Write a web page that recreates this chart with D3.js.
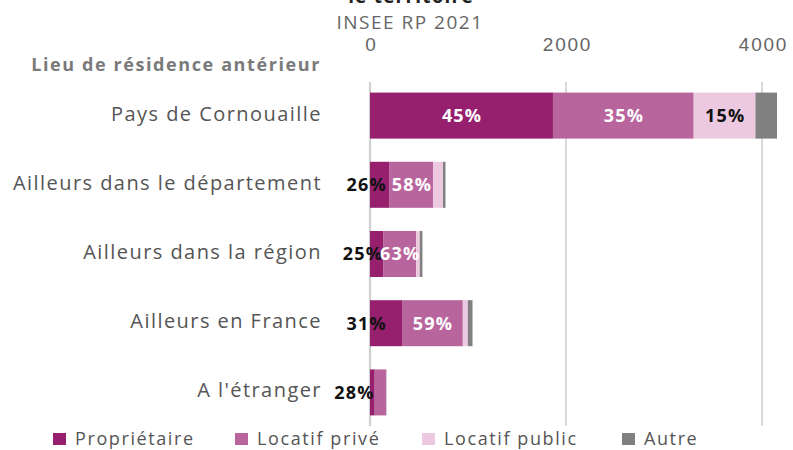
<!DOCTYPE html>
<html>
<head>
<meta charset="utf-8">
<script src="https://cdn.jsdelivr.net/npm/d3@7"></script>
<style>
  html, body { margin: 0; padding: 0; background: #fff; }
  svg { display: block; font-family: "Open Sans", "Noto Sans", sans-serif; }
</style>
</head>
<body>
<svg id="chart" width="793" height="450"></svg>
<script>
// Statut d'occupation selon le lieu de résidence antérieur (INSEE RP 2021)
const categories = [
  "Pays de Cornouaille",
  "Ailleurs dans le département",
  "Ailleurs dans la région",
  "Ailleurs en France",
  "A l'étranger"
];
const seriesNames = ["Propriétaire", "Locatif privé", "Locatif public", "Autre"];
const proprietaire = [1867, 200, 134, 327, 48];
const locatifPrive = [1436, 445, 337, 620, 115];
const locatifPublic = [630, 100, 37, 51, 8];
const autre = [220, 25, 27, 48, 2];
const tickValues = [0, 2000, 4000];
const colors = ["#97206e", "#b9659d", "#ecc9e0", "#808080"];
const labelColors = ["#ffffff", "#ffffff", "#111111", "#ffffff"];

const seriesValues = [proprietaire, locatifPrive, locatifPublic, autre];
const rows = categories.map((c, i) => {
  const r = { cat: c };
  seriesNames.forEach((s, k) => { r[s] = seriesValues[k][i]; });
  r.total = d3.sum(seriesValues, v => v[i]);
  return r;
});

const svg = d3.select("#chart");
const x = d3.scaleLinear().domain([0, 4000]).range([370, 762]);
const y = d3.scaleBand().domain(categories).range([82, 426])
  .paddingInner(0.335).paddingOuter(0.153);

// Titre (dernière ligne) et source
svg.append("text").attr("x", 411).attr("y", 3).attr("text-anchor", "middle")
  .attr("font-size", 19).attr("font-weight", 700).attr("fill", "#222")
  .attr("letter-spacing", 1.2).text("le territoire");
svg.append("text").attr("x", 410).attr("y", 29).attr("text-anchor", "middle")
  .attr("font-size", 19).attr("fill", "#666").attr("letter-spacing", 1.5)
  .text("INSEE RP 2021");

// Axe du haut
const axis = d3.axisTop(x).tickValues(tickValues).tickSize(0).tickPadding(0)
  .tickFormat(d3.format("d"));
const gAxis = svg.append("g").attr("transform", "translate(1,51)").call(axis);
gAxis.select(".domain").remove();
gAxis.selectAll("text").attr("font-size", 19).attr("fill", "#666")
  .attr("letter-spacing", 1.8).attr("font-family", "inherit");

// Grille verticale
svg.append("g").selectAll("line").data(tickValues).join("line")
  .attr("x1", d => x(d)).attr("x2", d => x(d))
  .attr("y1", 82).attr("y2", 426)
  .attr("stroke", "#d0d0d0").attr("stroke-width", d => d === 0 ? 2.2 : 1.6);

// Titre de l'axe des catégories
svg.append("text").attr("x", 321).attr("y", 71).attr("text-anchor", "end")
  .attr("font-size", 18).attr("font-weight", 700).attr("fill", "#7a7a7a")
  .attr("letter-spacing", 1.6).text("Lieu de résidence antérieur");

// Libellés des catégories
svg.append("g").selectAll("text").data(categories).join("text")
  .attr("x", 322).attr("y", d => y(d) + y.bandwidth() / 2 - 2)
  .attr("dy", "0.35em").attr("text-anchor", "end")
  .attr("font-size", 20).attr("fill", "#555").attr("letter-spacing", 1.45)
  .text(d => d);

// Barres empilées
const stack = d3.stack().keys(seriesNames)(rows);
const layers = svg.append("g").selectAll("g").data(stack).join("g")
  .attr("fill", (d, k) => colors[k]);
layers.selectAll("rect").data(d => d).join("rect")
  .attr("x", d => x(d[0])).attr("y", d => y(d.data.cat))
  .attr("width", d => x(d[1]) - x(d[0])).attr("height", y.bandwidth());

// Étiquettes de pourcentage
const gLab = svg.append("g");
stack.forEach((layer, k) => {
  if (k === 3) return;
  layer.forEach(d => {
    const x0 = x(d[0]), x1 = x(d[1]), w = x1 - x0;
    const pct = Math.round((d[1] - d[0]) / d.data.total * 100) + "%";
    if (k > 0 && w < 30) return;
    const t = gLab.append("text")
      .attr("y", y(d.data.cat) + y.bandwidth() / 2)
      .attr("dy", "0.35em").attr("font-size", 18).attr("font-weight", 700)
      .attr("letter-spacing", 1.2).text(pct);
    const tw = t.node().getComputedTextLength();
    if (k === 0 && w < tw + 8) {
      t.attr("x", Math.min(x1, x(0) + 17)).attr("text-anchor", "end").attr("fill", "#111");
    } else {
      t.attr("x", (x0 + x1) / 2 + 0.6).attr("text-anchor", "middle").attr("fill", labelColors[k]);
    }
  });
});

// Légende
const legendX = [53, 235, 422, 622];
const lg = svg.append("g").selectAll("g").data(seriesNames).join("g")
  .attr("transform", (d, k) => `translate(${legendX[k]},438.5)`);
lg.append("rect").attr("x", 0).attr("y", -5.5).attr("width", 13).attr("height", 12)
  .attr("fill", (d, k) => colors[k]);
lg.append("text").attr("x", 22).attr("dy", "0.35em").attr("font-size", 18)
  .attr("fill", "#555").attr("letter-spacing", 1.6).text(d => d);
</script>
</body>
</html>
